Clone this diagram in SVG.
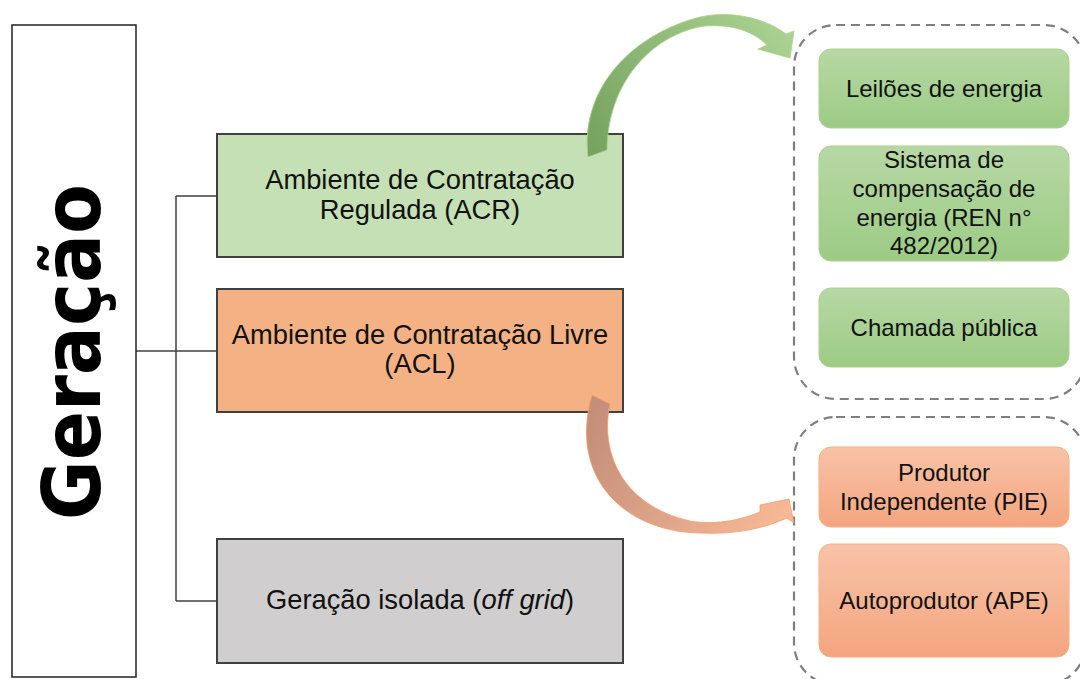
<svg xmlns="http://www.w3.org/2000/svg" width="1080" height="679" viewBox="0 0 1080 679">
<defs>
<linearGradient id="gGreen" x1="0" y1="0" x2="0" y2="1"><stop offset="0" stop-color="#b7d8a5"/><stop offset="1" stop-color="#9ccb84"/></linearGradient>
<linearGradient id="gOrange" x1="0" y1="0" x2="0" y2="1"><stop offset="0" stop-color="#f8c3a8"/><stop offset="1" stop-color="#f4a57f"/></linearGradient>
<linearGradient id="aGreen" gradientUnits="userSpaceOnUse" x1="595" y1="155" x2="785" y2="25"><stop offset="0" stop-color="#76a35f"/><stop offset="1" stop-color="#abd290"/></linearGradient>
<linearGradient id="aOrange" gradientUnits="userSpaceOnUse" x1="600" y1="400" x2="790" y2="515"><stop offset="0" stop-color="#c48e7a"/><stop offset="1" stop-color="#f8b996"/></linearGradient>
</defs>
<style>
.box{stroke:#404040;stroke-width:2}
.t{font-family:"Liberation Sans",Arial,sans-serif;fill:#111;text-anchor:middle}
.tm{font-size:27.3px}
.ts{font-size:24px}
.g{fill:url(#gGreen);stroke:#a9d18e;stroke-width:1}
.o{fill:url(#gOrange);stroke:#f4b183;stroke-width:1}
.dash{fill:none;stroke:#7f7f7f;stroke-width:2.2;stroke-dasharray:9 6}
.ln{fill:none;stroke:#404040;stroke-width:1.5}
</style>
<rect width="1080" height="679" fill="#ffffff"/>

<g id="connectors">
<path class="ln" d="M136 351 H217 M176 196 V601 M176 196 H217 M176 601 H217"/>
</g>

<g id="geracao">
<rect x="12" y="25" width="124" height="652" fill="#ffffff" stroke="#222" stroke-width="1.5"/>
<text transform="translate(100,352) rotate(-90)" font-family="'DejaVu Sans',Verdana,sans-serif" font-weight="bold" font-size="80" text-anchor="middle" textLength="336" lengthAdjust="spacingAndGlyphs" fill="#000">Geração</text>
</g>

<g id="acr">
<rect class="box" x="217" y="134" width="406" height="123" fill="#c5e0b4"/>
<text class="t tm" x="420" y="189">Ambiente de Contratação</text>
<text class="t tm" x="420" y="219">Regulada (ACR)</text>
</g>

<g id="acl">
<rect class="box" x="217" y="289" width="406" height="123" fill="#f4b183"/>
<text class="t tm" x="420" y="344">Ambiente de Contratação Livre</text>
<text class="t tm" x="420" y="373">(ACL)</text>
</g>

<g id="offgrid">
<rect class="box" x="217" y="539" width="406" height="124" fill="#d0cece"/>
<text class="t tm" x="420" y="609">Geração isolada (<tspan font-style="italic">off grid</tspan>)</text>
</g>

<g id="grupo-acr">
<rect class="dash" x="794" y="25" width="292" height="374" rx="42"/>
</g>
<g id="leiloes">
<rect class="g" x="819" y="49" width="250" height="79" rx="12"/>
<text class="t ts" x="944" y="97">Leilões de energia</text>
</g>
<g id="sistema">
<rect class="g" x="819" y="146" width="250" height="115" rx="12"/>
<text class="t ts" x="944" y="168">Sistema de</text>
<text class="t ts" x="944" y="197">compensação de</text>
<text class="t ts" x="944" y="226">energia (REN n°</text>
<text class="t ts" x="944" y="254">482/2012)</text>
</g>
<g id="chamada">
<rect class="g" x="819" y="288" width="250" height="79" rx="12"/>
<text class="t ts" x="944" y="336">Chamada pública</text>
</g>

<g id="grupo-acl">
<rect class="dash" x="794" y="417" width="292" height="268" rx="42"/>
</g>
<g id="pie">
<rect class="o" x="819" y="447" width="250" height="80" rx="12"/>
<text class="t ts" x="944" y="481">Produtor</text>
<text class="t ts" x="944" y="510">Independente (PIE)</text>
</g>
<g id="ape">
<rect class="o" x="819" y="544" width="250" height="113" rx="12"/>
<text class="t ts" x="944" y="609">Autoprodutor (APE)</text>
</g>

<g id="arrows">
<path d="M588 157 C580 90 630 35 700 17 C730 10 765 18 786 34 L794 31 L790 58 L758 49 L767 45 C752 30 730 24 705 26 C660 32 608 75 607 150 Z" fill="url(#aGreen)" stroke="#a9d18e" stroke-width="0.8"/>
<path d="M592 395 L610 404 C600 450 620 505 690 521 C720 526 745 518 760 512 L760 505 L789 499 L794 523 L787 518 C765 528 735 535 700 533 C625 532 568 478 592 395 Z" fill="url(#aOrange)" stroke="#f4a070" stroke-width="0.8"/>
</g>
</svg>
